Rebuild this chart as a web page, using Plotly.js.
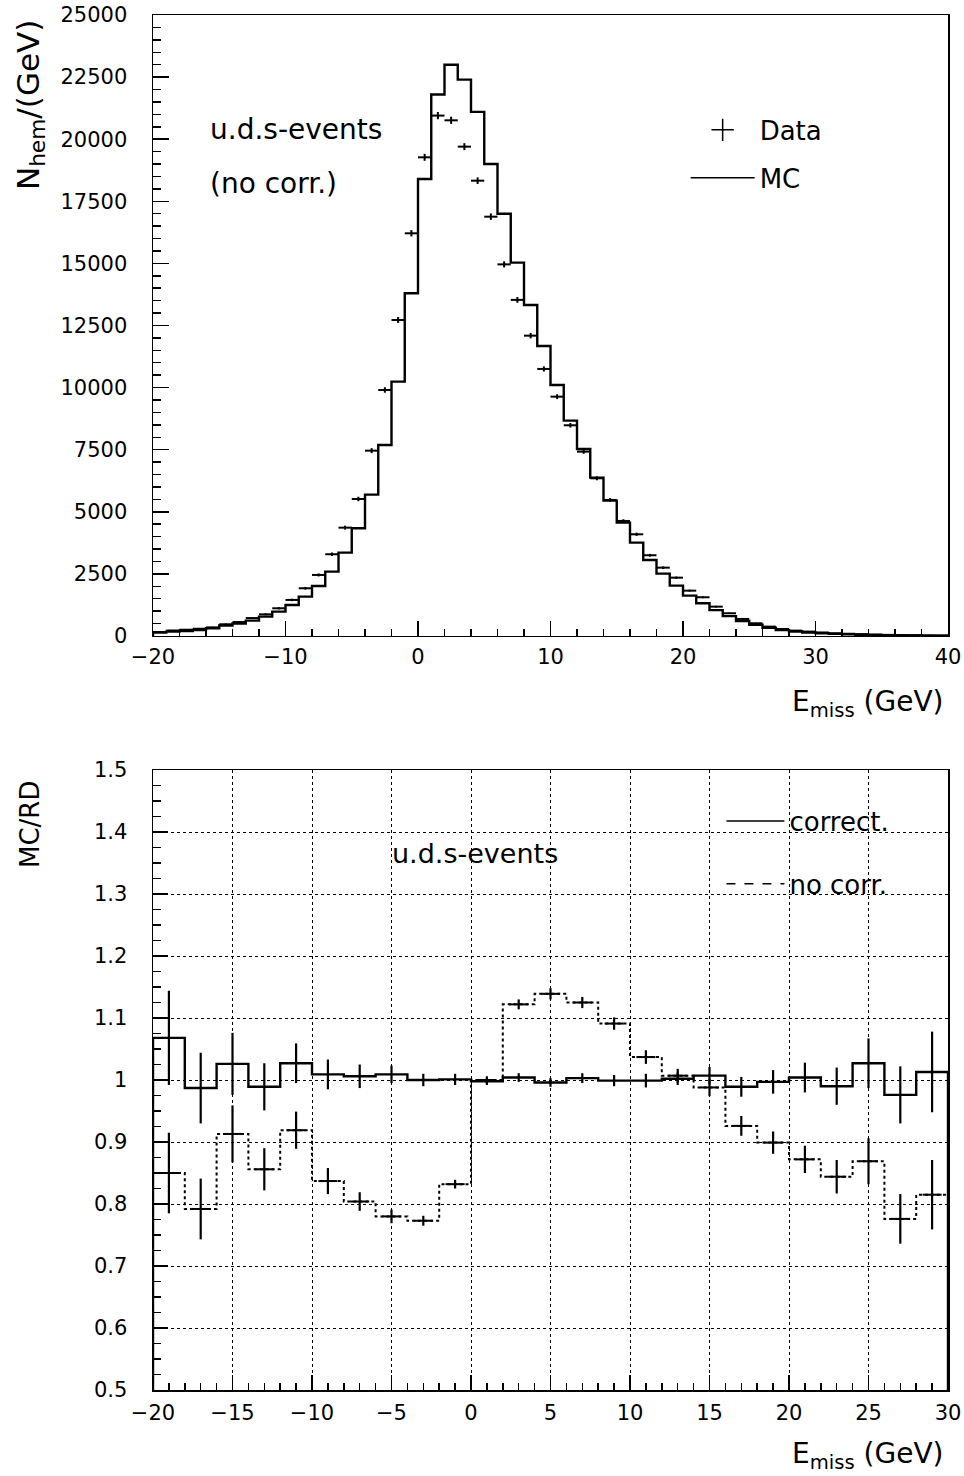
<!DOCTYPE html>
<html>
<head>
<meta charset="utf-8">
<script src="https://cdn.plot.ly/plotly-3.0.1.min.js"></script>
<style>
  html, body { margin: 0; padding: 0; background: #ffffff; }
  #chart { width: 964px; height: 1476px; }
</style>
</head>
<body>
<div id="chart"></div>
<script>
// ---------------- DATA ----------------
// Top panel: 1 GeV bins from -20 to 40 GeV
const topBinStart = -20;
const topBinWidth = 1;
const mcTop = [135, 175, 200, 240, 310, 420, 500, 617, 778, 980,
               1248, 1583, 2013, 2590, 3354, 4335, 5690, 7690, 10238, 13800,
               18400, 21800, 23000, 22400, 21100, 19000, 17000, 15030, 13325, 11675,
               10105, 8668, 7528, 6373, 5448, 4562, 3756, 3060, 2509, 2025,
               1623, 1315, 1040, 800, 600, 450, 330, 240, 180, 140,
               110, 85, 65, 50, 40, 32, 25, 20, 15, 12];
const dataTop = [160, 220, 250, 290, 345, 470, 560, 720, 870, 1114,
                 1450, 1920, 2456, 3290, 4360, 5515, 7460, 9903, 12721, 16211,
                 19270, 20950, 20760, 19700, 18330, 16880, 14960, 13530, 12090, 10750,
                 9634, 8482, 7420, 6347, 5475, 4630, 4093, 3249, 2750, 2347,
                 1824, 1558, 1180, 913, 684, 510, 376, 282, 215, 175,
                 140, 110, 88, 70, 55, 44, 35, 27, 21, 16];
const dataTopErr = [15, 18, 20, 22, 25, 30, 32, 36, 40, 45,
                    50, 55, 60, 70, 80, 90, 100, 110, 120, 130,
                    140, 145, 145, 140, 135, 130, 122, 116, 110, 104,
                    98, 92, 86, 80, 74, 68, 64, 57, 52, 48,
                    43, 40, 34, 30, 26, 23, 19, 17, 15, 13,
                    12, 10, 9, 8, 7, 7, 6, 5, 5, 4];

// Bottom panel: 2 GeV bins from -20 to 30 GeV, MC/RD ratio
const botBinStart = -20;
const botBinWidth = 2;
const ratioCorrect = [1.068, 0.987, 1.026, 0.989, 1.027, 1.009, 1.006, 1.009, 1.000, 1.001,
                      0.998, 1.004, 0.996, 1.003, 0.999, 0.999, 1.002, 1.007, 0.989, 0.997,
                      1.004, 0.990, 1.027, 0.976, 1.013];
const ratioCorrectErr = [0.076, 0.057, 0.050, 0.038, 0.032, 0.024, 0.019, 0.014, 0.010, 0.009,
                         0.006, 0.007, 0.007, 0.008, 0.009, 0.011, 0.010, 0.014, 0.016, 0.019,
                         0.024, 0.030, 0.040, 0.046, 0.065];
const ratioNoCorr = [0.850, 0.792, 0.913, 0.856, 0.919, 0.837, 0.804, 0.780, 0.773, 0.832,
                     1.000, 1.122, 1.139, 1.125, 1.091, 1.037, 1.007, 0.988, 0.926, 0.899,
                     0.872, 0.844, 0.869, 0.776, 0.815];
const ratioNoCorrErr = [0.065, 0.049, 0.046, 0.034, 0.030, 0.021, 0.015, 0.011, 0.008, 0.007,
                        0.006, 0.008, 0.009, 0.009, 0.010, 0.011, 0.011, 0.014, 0.016, 0.018,
                        0.022, 0.027, 0.037, 0.040, 0.056];

// Text
const labelEvents = 'u.d.s-events';
const labelNoCorrTop = '(no corr.)';
const xTitle = 'E<sub>miss</sub> (GeV)';
const yTitleTop = 'N<sub>hem</sub>/(GeV)';
const yTitleBot = 'MC/RD';

// ---------------- HELPERS ----------------
function stepXY(values, start, width) {
  // histogram outline: starts/ends at zero like a HBOOK histogram
  const xs = [start], ys = [0];
  for (let i = 0; i < values.length; i++) { xs.push(start + i * width); ys.push(values[i]); }
  xs.push(start + values.length * width); ys.push(values[values.length - 1]);
  xs.push(start + values.length * width); ys.push(0);
  return {x: xs, y: ys};
}
function centers(n, start, width) {
  const c = [];
  for (let i = 0; i < n; i++) c.push(start + (i + 0.5) * width);
  return c;
}

const FONT = 'DejaVu Sans, Liberation Sans, sans-serif';
const mcStep = stepXY(mcTop, topBinStart, topBinWidth);
const corrStep = stepXY(ratioCorrect, botBinStart, botBinWidth);
const noCorrStep = stepXY(ratioNoCorr, botBinStart, botBinWidth);

const traces = [
  // top: MC histogram
  {x: mcStep.x, y: mcStep.y, xaxis: 'x', yaxis: 'y', mode: 'lines',
   line: {shape: 'hv', color: 'black', width: 2.4}, showlegend: false, hoverinfo: 'skip'},
  // top: data points
  {x: centers(dataTop.length, topBinStart, topBinWidth), y: dataTop, xaxis: 'x', yaxis: 'y',
   mode: 'markers', marker: {size: 1, color: 'black'},
   error_x: {type: 'constant', value: topBinWidth / 2, thickness: 2, width: 0, color: 'black'},
   error_y: {type: 'data', array: dataTopErr, thickness: 2, width: 0, color: 'black'},
   showlegend: false, hoverinfo: 'skip'},
  // top legend entries
  {x: [null], y: [null], xaxis: 'x', yaxis: 'y', name: 'Data', mode: 'markers',
   marker: {symbol: 'cross-thin', size: 32, color: 'black', line: {width: 1.5, color: 'black'}},
   legend: 'legend', legendgroup: 'a', showlegend: true},
  {x: [null], y: [null], xaxis: 'x', yaxis: 'y', name: 'MC', mode: 'lines',
   line: {color: 'black', width: 1.5}, legend: 'legend', legendgroup: 'b', showlegend: true},

  // bottom: no corr. dotted histogram
  {x: noCorrStep.x, y: noCorrStep.y, xaxis: 'x2', yaxis: 'y2', mode: 'lines',
   line: {shape: 'hv', color: 'black', width: 2, dash: 'dot'}, showlegend: false, hoverinfo: 'skip'},
  {x: centers(ratioNoCorr.length, botBinStart, botBinWidth), y: ratioNoCorr, xaxis: 'x2', yaxis: 'y2',
   mode: 'markers', marker: {size: 1, color: 'black'},
   error_x: {type: 'constant', value: 0.6, thickness: 2, width: 0, color: 'black'},
   error_y: {type: 'data', array: ratioNoCorrErr, thickness: 2.2, width: 0, color: 'black'},
   showlegend: false, hoverinfo: 'skip'},
  // bottom: correct solid histogram
  {x: corrStep.x, y: corrStep.y, xaxis: 'x2', yaxis: 'y2', mode: 'lines',
   line: {shape: 'hv', color: 'black', width: 2.4}, showlegend: false, hoverinfo: 'skip'},
  {x: centers(ratioCorrect.length, botBinStart, botBinWidth), y: ratioCorrect, xaxis: 'x2', yaxis: 'y2',
   mode: 'markers', marker: {size: 1, color: 'black'},
   error_y: {type: 'data', array: ratioCorrectErr, thickness: 2.2, width: 0, color: 'black'},
   showlegend: false, hoverinfo: 'skip'},
  // bottom legend entries
  {x: [null], y: [null], xaxis: 'x2', yaxis: 'y2', name: 'correct.', mode: 'lines',
   line: {color: 'black', width: 1.5}, legend: 'legend2', legendgroup: 'c', showlegend: true},
  {x: [null], y: [null], xaxis: 'x2', yaxis: 'y2', name: 'no corr.', mode: 'lines',
   line: {color: 'black', width: 1.5, dash: 'dash'}, legend: 'legend2', legendgroup: 'd', showlegend: true}
];

const axisCommon = {
  showline: true, linecolor: 'black', linewidth: 1.5, mirror: true,
  ticks: 'inside', tickcolor: 'black', tickwidth: 1.5,
  zeroline: false, tickfont: {family: FONT, size: 21, color: 'black'},
  fixedrange: true
};

const layout = {
  width: 964, height: 1476,
  margin: {l: 153, r: 16, t: 15, b: 86},
  paper_bgcolor: 'white', plot_bgcolor: 'white',
  font: {family: FONT, color: 'black'},
  showlegend: true,
  xaxis: Object.assign({}, axisCommon, {
    domain: [0, 1], anchor: 'y', range: [-20, 40], tickmode: 'linear', tick0: -20, dtick: 10,
    ticklen: 15, ticklabelstandoff: 1, showgrid: false,
    minor: {dtick: 2, ticklen: 7, tickwidth: 1.5, tickcolor: 'black', ticks: 'inside', showgrid: false}
  }),
  yaxis: Object.assign({}, axisCommon, {
    domain: [0.5484, 1], anchor: 'x', range: [0, 25000], tickmode: 'linear', tick0: 0, dtick: 2500,
    ticklen: 16, tickformat: 'd', ticklabelstandoff: 20, showgrid: false,
    minor: {dtick: 500, ticklen: 8, tickwidth: 1.5, tickcolor: 'black', ticks: 'inside', showgrid: false}
  }),
  xaxis2: Object.assign({}, axisCommon, {
    domain: [0, 1], anchor: 'y2', range: [-20, 30], tickmode: 'linear', tick0: -20, dtick: 5,
    ticklen: 15, ticklabelstandoff: 3,
    showgrid: true, gridcolor: 'black', gridwidth: 1, griddash: 'dot',
    minor: {dtick: 1, ticklen: 7, tickwidth: 1.5, tickcolor: 'black', ticks: 'inside', showgrid: false}
  }),
  yaxis2: Object.assign({}, axisCommon, {
    domain: [0, 0.4509], anchor: 'x2', range: [0.5, 1.5], tickmode: 'linear', tick0: 0.5, dtick: 0.1,
    ticklen: 15, ticklabelstandoff: 20,
    showgrid: true, gridcolor: 'black', gridwidth: 1, griddash: 'dot',
    minor: {dtick: 0.025, ticklen: 8, tickwidth: 1.5, tickcolor: 'black', ticks: 'inside', showgrid: false}
  }),
  legend: {
    x: 0.67, y: 0.9335, xref: 'paper', yref: 'paper', xanchor: 'left', yanchor: 'top',
    bgcolor: 'rgba(0,0,0,0)', borderwidth: 0, traceorder: 'grouped', tracegroupgap: 11,
    font: {family: FONT, size: 26, color: 'black'}, itemwidth: 64
  },
  legend2: {
    x: 0.715, y: 0.4308, xref: 'paper', yref: 'paper', xanchor: 'left', yanchor: 'top',
    bgcolor: 'rgba(0,0,0,0)', borderwidth: 0, traceorder: 'grouped', tracegroupgap: 26,
    font: {family: FONT, size: 26, color: 'black'}, itemwidth: 58
  },
  annotations: [
    {text: labelEvents, xref: 'paper', yref: 'paper', x: 0.0692, y: 0.9164,
     xanchor: 'left', yanchor: 'middle', showarrow: false, font: {family: FONT, size: 28}},
    {text: labelNoCorrTop, xref: 'paper', yref: 'paper', x: 0.0692, y: 0.8778,
     xanchor: 'left', yanchor: 'middle', showarrow: false, font: {family: FONT, size: 28}},
    {text: xTitle, xref: 'paper', yref: 'paper', x: 0.9962, y: 0.4996,
     xanchor: 'right', yanchor: 'middle', showarrow: false, font: {family: FONT, size: 28}},
    {text: yTitleTop, xref: 'paper', yref: 'paper', x: -0.1547, y: 0.9345, textangle: -90,
     xanchor: 'center', yanchor: 'middle', showarrow: false, font: {family: FONT, size: 31}},
    {text: yTitleBot, xref: 'paper', yref: 'paper', x: -0.1547, y: 0.4109, textangle: -90,
     xanchor: 'center', yanchor: 'middle', showarrow: false, font: {family: FONT, size: 26}},
    {text: labelEvents, xref: 'paper', yref: 'paper', x: 0.2981, y: 0.3905,
     xanchor: 'left', yanchor: 'middle', showarrow: false, font: {family: FONT, size: 27}},
    {text: xTitle, xref: 'paper', yref: 'paper', x: 0.9962, y: -0.0473,
     xanchor: 'right', yanchor: 'middle', showarrow: false, font: {family: FONT, size: 28}}
  ]
};

Plotly.newPlot('chart', traces, layout, {displayModeBar: false, staticPlot: true});
</script>
</body>
</html>
